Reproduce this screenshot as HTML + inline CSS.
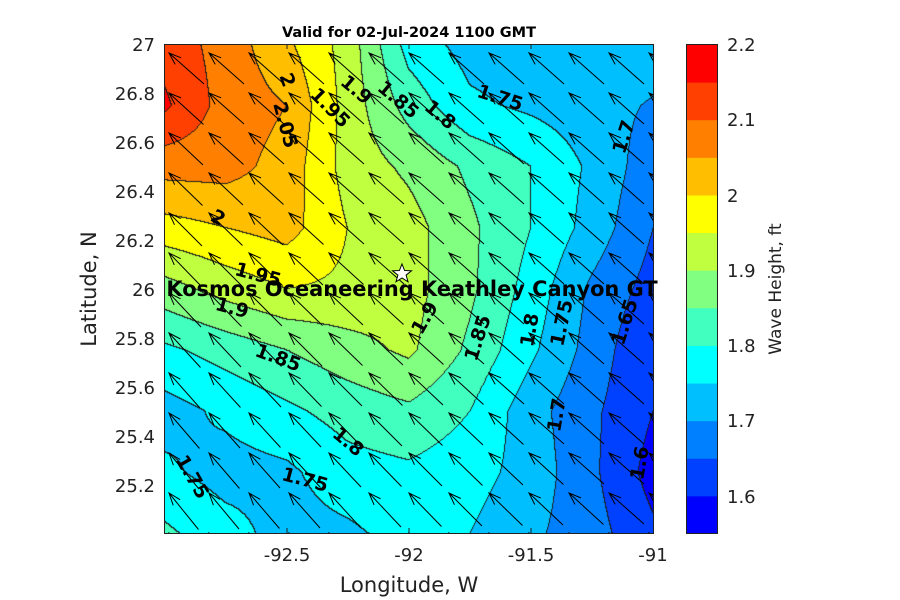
<!DOCTYPE html>
<html><head><meta charset="utf-8"><style>
body{margin:0;background:#fff;width:900px;height:600px;overflow:hidden;font-family:"Liberation Sans","DejaVu Sans",sans-serif}
#c{position:absolute;left:164px;top:44px}
svg{position:absolute;left:0;top:0}
</style></head><body>
<canvas id="c" width="490" height="490"></canvas>
<svg id="s" width="900" height="600" xmlns="http://www.w3.org/2000/svg" font-family="DejaVu Sans, Liberation Sans, sans-serif">
<g id="arrows" stroke="#000" stroke-width="1" fill="none"></g>
<rect x="164.5" y="44.5" width="489" height="489" fill="none" stroke="#222" stroke-width="1"/>
<g font-weight="bold" font-size="19" fill="#000" text-anchor="middle" dominant-baseline="central">
<text transform="translate(287,80) rotate(70)">2</text>
<text transform="translate(285,125) rotate(75)">2.05</text>
<text transform="translate(330,108) rotate(45)">1.95</text>
<text transform="translate(356,90) rotate(40)">1.9</text>
<text transform="translate(398,100) rotate(40)">1.85</text>
<text transform="translate(440,115) rotate(40)">1.8</text>
<text transform="translate(500,98) rotate(18)">1.75</text>
<text transform="translate(624,137) rotate(-72)">1.7</text>
<text transform="translate(218,218) rotate(30)">2</text>
<text transform="translate(258,275) rotate(15)">1.95</text>
<text transform="translate(232,308) rotate(15)">1.9</text>
<text transform="translate(278,358) rotate(20)">1.85</text>
<text transform="translate(348,442) rotate(40)">1.8</text>
<text transform="translate(305,480) rotate(15)">1.75</text>
<text transform="translate(192,477) rotate(60)">1.75</text>
<text transform="translate(425,318) rotate(-60)">1.9</text>
<text transform="translate(478,338) rotate(-72)">1.85</text>
<text transform="translate(530,330) rotate(-80)">1.8</text>
<text transform="translate(562,323) rotate(-78)">1.75</text>
<text transform="translate(625,322) rotate(-72)">1.65</text>
<text transform="translate(557,415) rotate(-80)">1.7</text>
<text transform="translate(640,463) rotate(-80)">1.6</text>
</g>
<polygon points="402,264 404.6,270.5 411.5,270.8 406.1,275.1 408,281.8 402,278 396,281.8 397.9,275.1 392.5,270.8 399.4,270.5" fill="#fff" stroke="#000" stroke-width="1"/>
<text x="412" y="296" font-size="20.9" font-weight="bold" text-anchor="middle">Kosmos Oceaneering Keathley Canyon GT</text>
<text x="409" y="37" font-size="14.5" font-weight="bold" text-anchor="middle">Valid for 02-Jul-2024 1100 GMT</text>
<g font-size="18" fill="#222" text-anchor="end">
<text x="155" y="51">27</text><text x="155" y="100">26.8</text><text x="155" y="149">26.6</text><text x="155" y="198">26.4</text><text x="155" y="247">26.2</text><text x="155" y="296">26</text><text x="155" y="345">25.8</text><text x="155" y="394">25.6</text><text x="155" y="443">25.4</text><text x="155" y="492">25.2</text>
</g>
<g font-size="18" fill="#222" text-anchor="middle">
<text x="287" y="561">-92.5</text><text x="409" y="561">-92</text><text x="531" y="561">-91.5</text><text x="653" y="561">-91</text>
</g>
<g stroke="#222">
<line x1="287" y1="533" x2="287" y2="528"/><line x1="409" y1="533" x2="409" y2="528"/><line x1="531" y1="533" x2="531" y2="528"/>
<line x1="287" y1="44" x2="287" y2="49"/><line x1="409" y1="44" x2="409" y2="49"/><line x1="531" y1="44" x2="531" y2="49"/>
</g>
<text x="409" y="592" font-size="21" fill="#222" text-anchor="middle">Longitude, W</text>
<text transform="translate(96,289) rotate(-90)" font-size="21" fill="#222" text-anchor="middle">Latitude, N</text>
<g id="cb"></g>
<rect x="686.5" y="44.5" width="31" height="489" fill="none" stroke="#222"/>
<g font-size="18" fill="#222">
<text x="727" y="51">2.2</text><text x="727" y="126">2.1</text><text x="727" y="202">2</text><text x="727" y="277">1.9</text><text x="727" y="352">1.8</text><text x="727" y="427">1.7</text><text x="727" y="503">1.6</text>
</g>
<text transform="translate(781,289) rotate(-90)" font-size="17" fill="#222" text-anchor="middle">Wave Height, ft</text>
</svg>
<script>
var cols=["#0000FF","#0040FF","#0080FF","#00BFFF","#00FFFF","#40FFBF","#80FF80","#BFFF40","#FFFF00","#FFBF00","#FF8000","#FF4000","#FF0000"];
var G=[
[2.13,2.08,2.01,1.93,1.78,1.73,1.72,1.72,1.73],
[2.16,2.08,2.05,1.93,1.83,1.76,1.74,1.72,1.695],
[2.07,2.07,2.03,1.93,1.89,1.84,1.80,1.74,1.67],
[1.98,2.00,2.02,1.95,1.92,1.86,1.80,1.73,1.65],
[1.88,1.92,1.95,1.94,1.92,1.86,1.78,1.69,1.63],
[1.79,1.82,1.85,1.88,1.91,1.84,1.76,1.68,1.60],
[1.73,1.76,1.79,1.82,1.84,1.80,1.72,1.66,1.60],
[1.76,1.73,1.74,1.78,1.79,1.77,1.73,1.66,1.58],
[1.81,1.77,1.73,1.74,1.77,1.75,1.71,1.67,1.61]];
function val(x,y){var fx=x/489*8,fy=y/489*8;var i=Math.min(7,Math.floor(fx)),j=Math.min(7,Math.floor(fy));var u=fx-i,v=fy-j;
return G[j][i]*(1-u)*(1-v)+G[j][i+1]*u*(1-v)+G[j+1][i]*(1-u)*v+G[j+1][i+1]*u*v;}
function band(v){var b=Math.floor((v-1.55)/0.05);return Math.max(0,Math.min(12,b));}
var c=document.getElementById('c'),ctx=c.getContext('2d'),W=490,H=490;
var B=[];for(var y=0;y<H;y++){B[y]=[];for(var x=0;x<W;x++)B[y][x]=band(val(x,y));}
var img=ctx.createImageData(W,H);
var rgb=cols.map(function(h){return[parseInt(h.substr(1,2),16),parseInt(h.substr(3,2),16),parseInt(h.substr(5,2),16)]});
for(var y=0;y<H;y++)for(var x=0;x<W;x++){var b=B[y][x],k=(y*W+x)*4,col=rgb[b];
var edge=(x+1<W&&B[y][x+1]!=b)||(y+1<H&&B[y+1][x]!=b);
if(edge){img.data[k]=30;img.data[k+1]=30;img.data[k+2]=30;}else{img.data[k]=col[0];img.data[k+1]=col[1];img.data[k+2]=col[2];}
img.data[k+3]=255;}
ctx.putImageData(img,0,0);
var NS="http://www.w3.org/2000/svg";
var cb=document.getElementById('cb');
for(var i=0;i<13;i++){var r=document.createElementNS(NS,'rect');var y0=533.5-(i+1)*489/13;
r.setAttribute('x',686.5);r.setAttribute('y',y0);r.setAttribute('width',31);r.setAttribute('height',489/13+0.5);r.setAttribute('fill',cols[i]);cb.appendChild(r);}
var ag=document.getElementById('arrows');var d='';
for(var j=0;j<13;j++)for(var i=0;i<13;i++){
var hx=169+40*i,hy=53+40*j;var t=Math.max(0,(j-i)/12);
var dx=35-6*t,dy=31+6*t;var tx=hx+dx,ty=hy+dy;
var L=Math.sqrt(dx*dx+dy*dy),ux=dx/L,uy=dy/L,hl=13,a=0.35;
var ca=Math.cos(a),sa=Math.sin(a);
var p1x=hx+hl*(ux*ca-uy*sa),p1y=hy+hl*(ux*sa+uy*ca);
var p2x=hx+hl*(ux*ca+uy*sa),p2y=hy+hl*(-ux*sa+uy*ca);
d+='M'+tx+' '+ty+'L'+hx+' '+hy+'M'+p1x.toFixed(1)+' '+p1y.toFixed(1)+'L'+hx+' '+hy+'L'+p2x.toFixed(1)+' '+p2y.toFixed(1);}
var p=document.createElementNS(NS,'path');p.setAttribute('d',d);ag.appendChild(p);
var cp=document.createElementNS(NS,'clipPath');cp.setAttribute('id','cl');var cr=document.createElementNS(NS,'rect');cr.setAttribute('x',164);cr.setAttribute('y',44);cr.setAttribute('width',490);cr.setAttribute('height',490);cp.appendChild(cr);document.getElementById('s').appendChild(cp);ag.setAttribute('clip-path','url(#cl)');
</script>
</body></html>
